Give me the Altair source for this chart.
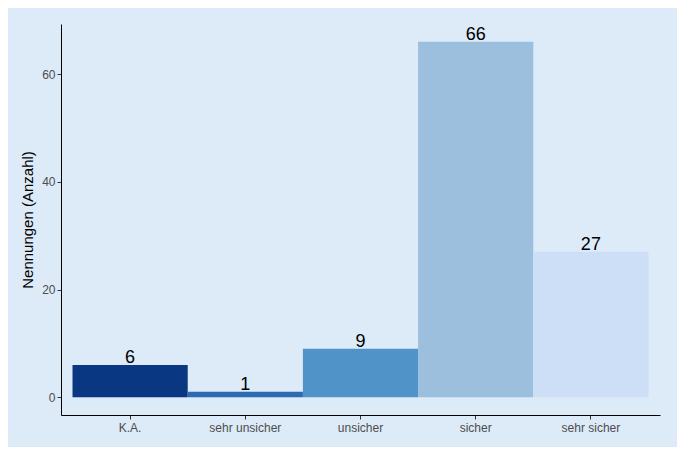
import altair as alt
import pandas as pd

categories = ["K.A.", "sehr unsicher", "unsicher", "sicher", "sehr sicher"]
counts = [6, 1, 9, 66, 27]
colors = ["#0a3782", "#2b6cb3", "#4f93c8", "#9bbfdd", "#cddff6"]

df = pd.DataFrame({"kat": categories, "n": counts})

x = alt.X("kat:N", sort=categories, title=None,
          scale=alt.Scale(paddingInner=0, paddingOuter=0.1),
          axis=alt.Axis(labelAngle=0, labelFontSize=12, labelColor="#4d4d4d",
                        labelFont="Liberation Sans", domainColor="black",
                        tickColor="#333333", tickSize=4, labelPadding=3))
y = alt.Y("n:Q", title="Nennungen (Anzahl)",
          scale=alt.Scale(domain=[-3.3, 69.3], nice=False, zero=False),
          axis=alt.Axis(values=[0, 20, 40, 60], grid=False, labelFontSize=12,
                        labelColor="#4d4d4d", labelFont="Liberation Sans",
                        domainColor="black", tickColor="#333333", tickSize=4,
                        titleFontSize=15, titleFont="Liberation Sans",
                        titleFontWeight="normal", titleColor="black", titlePadding=6))

bars = alt.Chart(df).mark_bar().encode(
    x=x, y=y, y2=alt.datum(0),
    color=alt.Color("kat:N", sort=categories,
                    scale=alt.Scale(domain=categories, range=colors), legend=None),
)
labels = alt.Chart(df).mark_text(fontSize=18, font="Liberation Sans", color="black",
                                 baseline="alphabetic", dy=-2).encode(
    x=alt.X("kat:N", sort=categories), y="n:Q", text="n:Q")

chart = (bars + labels).properties(
    width=599, height=391,
    autosize=alt.AutoSizeParams(type="none"),
    padding={"left": 53, "top": 16, "right": 17, "bottom": 32},
    background="#ddeaf8",
).configure_view(stroke=None).configure_axisX(domain=True).configure_axisY(domain=True)

chart.save("out.html", embed_options={"renderer": "svg", "actions": False})
